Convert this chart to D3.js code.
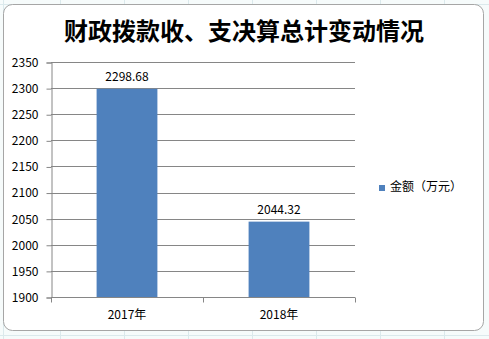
<!DOCTYPE html>
<html>
<head>
<meta charset="utf-8">
<script src="https://cdn.jsdelivr.net/npm/d3@7"></script>
<style>
  html, body { margin: 0; padding: 0; background: #ffffff; }
  svg { display: block; }
</style>
</head>
<body>
<svg id="chart" width="489" height="339"></svg>
<script>
const years = ["2017年", "2018年"];
const amounts = [2298.68, 2044.32];
const yTicks = [1900, 1950, 2000, 2050, 2100, 2150, 2200, 2250, 2300, 2350];
const title = "财政拨款收、支决算总计变动情况";
const seriesName = "金额（万元）";

(() => {
const svg = d3.select("#chart");
const W = 489, H = 339;
const font = "'Noto Sans CJK SC', sans-serif";

// spreadsheet backdrop
const back = svg.append("g");
back.append("rect").attr("width", W).attr("height", H).attr("fill", "#f6fbfb");
[3, 60, 124, 188, 252, 316, 380, 444].forEach(x =>
  back.append("line").attr("x1", x + 0.5).attr("x2", x + 0.5).attr("y1", 0).attr("y2", H)
    .attr("stroke", "#dbe9ec"));
[4, 335].forEach(y =>
  back.append("line").attr("x1", 0).attr("x2", W).attr("y1", y + 0.5).attr("y2", y + 0.5)
    .attr("stroke", "#dbe9ec"));

// chart area
svg.append("rect")
  .attr("x", 3.5).attr("y", 4.5).attr("width", 480).attr("height", 326)
  .attr("rx", 9).attr("fill", "#ffffff").attr("stroke", "#a6a6a6");

svg.append("text")
  .attr("x", 244).attr("y", 40)
  .attr("text-anchor", "middle")
  .attr("font-family", font)
  .attr("font-weight", 600)
  .attr("font-size", 24)
  .attr("fill", "#000")
  .text(title);

const mLeft = 51, mRight = 355, mTop = 62, mBottom = 297;

const x = d3.scaleBand().domain(years).range([mLeft, mRight]).paddingInner(0.6).paddingOuter(0.3);
const y = d3.scaleLinear().domain([1900, 2350]).range([mBottom, mTop]);

// gridlines
svg.append("g").selectAll("line").data(yTicks).join("line")
  .attr("x1", mLeft).attr("x2", mRight)
  .attr("y1", d => Math.round(y(d)) + 0.5).attr("y2", d => Math.round(y(d)) + 0.5)
  .attr("stroke", "#868686");

// bars
svg.append("g").selectAll("rect").data(amounts).join("rect")
  .attr("x", (d, i) => x(years[i]))
  .attr("width", x.bandwidth())
  .attr("y", d => y(d))
  .attr("height", d => mBottom - y(d))
  .attr("fill", "#4f81bd");

// value labels
svg.append("g").selectAll("text").data(amounts).join("text")
  .attr("x", (d, i) => x(years[i]) + x.bandwidth() / 2)
  .attr("y", d => y(d) - 8)
  .attr("text-anchor", "middle")
  .attr("font-family", font)
  .attr("font-size", 12)
  .attr("fill", "#000")
  .text(d => d.toFixed(2));

// y axis
const yAxis = d3.axisLeft(y).tickValues(yTicks).tickSize(5).tickPadding(8).tickFormat(d3.format("d"));
const ya = svg.append("g").attr("transform", `translate(${mLeft + 0.5},0.5)`).call(yAxis);
ya.selectAll("path, line").attr("stroke", "#868686");
ya.selectAll("text").attr("font-family", font).attr("font-size", 12).attr("fill", "#000");

// x axis
const xBoundary = d3.scalePoint().domain(["a", "b", "c"]).range([mLeft, mRight]);
const xa = svg.append("g").attr("transform", `translate(0,${mBottom + 0.5})`);
xa.append("line").attr("x1", mLeft).attr("x2", mRight).attr("stroke", "#868686");
xa.selectAll("line.tk").data(xBoundary.domain()).join("line").attr("class", "tk")
  .attr("x1", d => Math.round(xBoundary(d)) + 0.5).attr("x2", d => Math.round(xBoundary(d)) + 0.5)
  .attr("y1", 0).attr("y2", 5).attr("stroke", "#868686");
xa.selectAll("text").data(years).join("text")
  .attr("x", d => x(d) + x.bandwidth() / 2)
  .attr("y", 21)
  .attr("text-anchor", "middle")
  .attr("font-family", font)
  .attr("font-size", 12)
  .attr("fill", "#000")
  .text(d => d);

// legend
const lg = svg.append("g").attr("transform", "translate(379,186)");
lg.append("rect").attr("x", 0).attr("y", -1).attr("width", 6).attr("height", 6).attr("fill", "#4f81bd");
lg.append("text").attr("x", 11).attr("y", 5)
  .attr("font-family", font)
  .attr("font-size", 12).attr("fill", "#000")
  .text(seriesName);
})();
</script>
</body>
</html>
